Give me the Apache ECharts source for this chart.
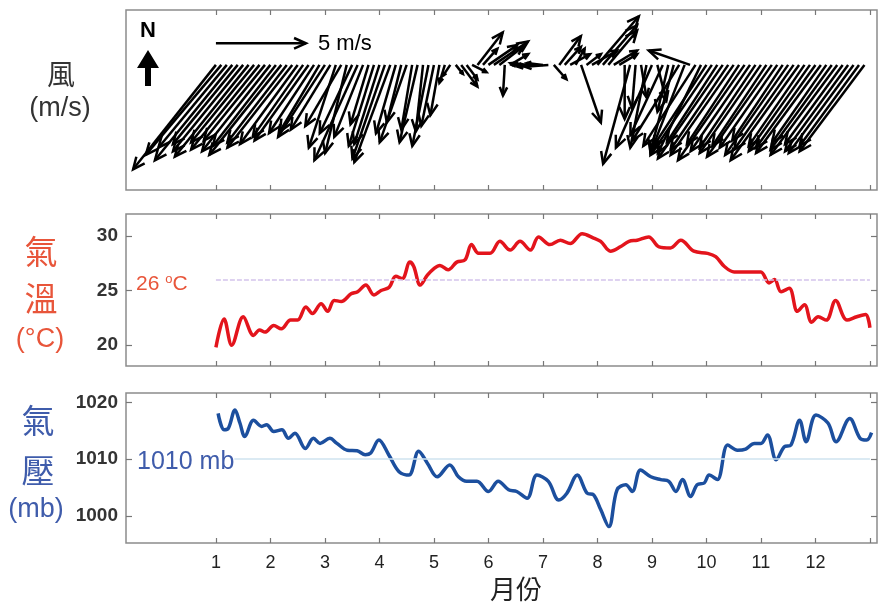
<!DOCTYPE html>
<html>
<head>
<meta charset="utf-8">
<script src="https://cdn.jsdelivr.net/npm/echarts@6/dist/echarts.min.js"></script>
<style>
html, body { margin: 0; background: #fff; }
#chart { width: 879px; height: 602px; }
</style>
</head>
<body>
<div id="chart"></div>
<script>
// month ticks / labels
var monthTicks = [1, 2, 3, 4, 5, 6, 7, 8, 9, 10, 11, 12, 13];
var monthLabels = [1, 2, 3, 4, 5, 6, 7, 8, 9, 10, 11, 12];
var tempTicks = [20, 25, 30];
var presTicks = [1000, 1010, 1020];

// wind: origin month, u and v (m/s)
var windMonth = [
  1.0, 1.1, 1.2, 1.3, 1.4, 1.5, 1.6, 1.7, 1.8, 1.9,
  2.0, 2.1, 2.2, 2.3, 2.4, 2.5, 2.6, 2.7, 2.8, 2.9,
  3.0, 3.1, 3.2, 3.3, 3.4, 3.5, 3.6, 3.7, 3.8, 3.9,
  4.0, 4.1, 4.2, 4.3, 4.4, 4.5, 4.6, 4.7, 4.8, 4.9,
  5.0, 5.1, 5.2, 5.3, 5.4, 5.5, 5.6, 5.7, 5.8, 5.9,
  6.0, 6.1, 6.2, 6.3, 6.4, 6.5, 6.6, 6.7, 6.8, 6.9,
  7.0, 7.1, 7.2, 7.3, 7.4, 7.5, 7.6, 7.7, 7.8, 7.9,
  8.0, 8.1, 8.2, 8.3, 8.4, 8.5, 8.6, 8.7, 8.8, 8.9,
  9.0, 9.1, 9.2, 9.3, 9.4, 9.5, 9.6, 9.7, 9.8, 9.9,
  10.0, 10.1, 10.2, 10.3, 10.4, 10.5, 10.6, 10.7, 10.8, 10.9,
  11.0, 11.1, 11.2, 11.3, 11.4, 11.5, 11.6, 11.7, 11.8, 11.9,
  12.0, 12.1, 12.2, 12.3, 12.4, 12.5, 12.6, 12.7, 12.8, 12.9
];
var windU = [
  -4.6, -4.2, -3.8, -4.3, -3.6, -3.9, -4.1, -3.5, -3.8, -3.4,
  -3.8, -3.5, -4.0, -3.3, -3.6, -3.2, -2.8, -3.0, -2.5, -2.2,
  -2.6, -2.2, -1.5, -2.0, -1.2, -1.8, -2.4, -1.6, -1.0, -1.4,
  -1.4, -1.8, -2.0, -1.1, -0.8, -1.5, -0.6, -1.0, -0.4, -0.9,
  -0.7, -0.5, -0.3, -0.4, 0.4, 0.9, 0.6, 0.8, 1.4, 0.8,
  1.6, 1.9, 1.3, -0.1, 1.0, -0.3, -0.5, -0.7, -0.8, -1.1,
  -0.9, -1.3, 0.7, 1.2, 0.9, 1.1, 0.5, 1.1, 0.8, 1.4,
  2.3, 1.9, 1.6, 1.3, 1.0, 0.0, -1.5, -0.2, 0.3, -0.9,
  -2.0, 0.5, -1.8, -0.6, -1.3, -2.6, -1.9, -2.3, -2.9, -2.4,
  -3.0, -3.4, -2.8, -3.6, -3.2, -3.5, -2.9, -3.7, -3.3, -3.1,
  -3.4, -3.0, -3.6, -3.2, -2.8, -3.5, -3.3, -3.8, -3.1, -3.4,
  -3.3, -3.6, -3.0, -3.4, -3.7, -3.2, -3.5, -3.6, -3.3, -3.6
];
var windV = [
  -5.8, -5.0, -4.6, -5.3, -4.4, -4.8, -5.1, -4.3, -4.7, -4.2,
  -4.8, -4.5, -5.0, -4.3, -4.6, -4.4, -4.0, -4.2, -3.8, -3.7,
  -4.0, -3.6, -4.6, -3.4, -4.9, -3.8, -5.3, -4.0, -3.3, -4.5,
  -4.4, -5.2, -5.4, -3.8, -3.2, -4.3, -3.6, -4.3, -3.7, -4.5,
  -3.4, -2.8, -1.0, -0.6, -0.5, -1.2, -0.8, -0.4, 1.8, 0.9,
  1.1, 1.3, 1.0, -1.7, 0.6, 0.1, 0.0, 0.1, 0.0, -0.1,
  0.1, -0.1, -0.8, 1.6, 1.0, 0.6, 0.9, -3.2, 0.6, 0.8,
  2.7, 2.2, 1.9, 0.8, 0.6, -3.0, -5.5, -2.4, -1.8, -4.6,
  -4.6, -2.0, -3.9, -2.6, -4.8, -4.2, -4.9, 0.8, -4.5, -4.9,
  -4.6, -5.0, -4.3, -5.2, -4.7, -5.0, -4.4, -5.3, -4.8, -4.6,
  -4.9, -4.5, -5.1, -4.6, -4.2, -5.0, -4.7, -5.3, -4.5, -4.8,
  -4.6, -4.9, -4.3, -4.7, -5.0, -4.4, -4.8, -4.9, -4.5, -4.8
];
// reference arrow: start month, start height, u, v
var scaleArrow = [1.0, 1.2, 5, 0];

// temperature (°C)
var tempMonth = [
  1.0, 1.15, 1.29, 1.5, 1.69, 1.8, 1.9, 2.06, 2.2, 2.37,
  2.5, 2.65, 2.77, 2.93, 3.05, 3.17, 3.3, 3.48, 3.6, 3.75,
  3.9, 4.03, 4.18, 4.3, 4.42, 4.56, 4.63, 4.75, 4.88, 5.0,
  5.11, 5.26, 5.42, 5.57, 5.69, 5.82, 6.03, 6.21, 6.4, 6.58,
  6.77, 6.92, 7.13, 7.32, 7.5, 7.72, 7.93, 8.06, 8.24, 8.42,
  8.58, 8.73, 8.94, 9.13, 9.34, 9.53, 9.77, 10.02, 10.17, 10.33,
  10.51, 10.69, 10.9, 11.0, 11.15, 11.25, 11.37, 11.52, 11.67, 11.8,
  11.93, 12.05, 12.2, 12.37, 12.58, 12.76, 12.92, 13.0
];
var tempValue = [
  19.8, 22.4, 20.0, 22.6, 20.9, 21.4, 21.2, 21.8, 21.5, 22.3,
  22.3, 23.5, 22.9, 23.8, 23.1, 24.1, 24.0, 24.7, 24.9, 25.5,
  24.6, 25.0, 25.3, 26.3, 26.1, 27.6, 27.2, 25.5, 26.4, 27.0,
  27.3, 26.9, 27.6, 27.8, 29.2, 28.4, 28.4, 29.5, 28.7, 29.5,
  28.7, 29.9, 29.2, 29.6, 29.3, 30.2, 29.8, 29.5, 28.6, 29.0,
  29.5, 29.6, 29.9, 29.0, 28.9, 29.6, 28.6, 28.4, 28.1, 27.2,
  26.7, 26.7, 26.7, 26.7, 25.7, 26.0, 24.9, 25.2, 23.1, 23.7,
  22.1, 22.6, 22.3, 24.1, 22.3, 22.6, 22.8, 21.6
];

// pressure (mb)
var presMonth = [
  1.04, 1.15, 1.23, 1.35, 1.44, 1.53, 1.69, 1.84, 1.93, 2.06,
  2.21, 2.33, 2.45, 2.64, 2.79, 2.91, 3.09, 3.22, 3.41, 3.59,
  3.74, 3.84, 3.99, 4.17, 4.36, 4.54, 4.72, 4.88, 5.06, 5.29,
  5.45, 5.6, 5.79, 6.0, 6.18, 6.37, 6.52, 6.71, 6.89, 7.1,
  7.29, 7.44, 7.63, 7.81, 7.93, 8.06, 8.21, 8.36, 8.52, 8.64,
  8.79, 8.98, 9.16, 9.31, 9.44, 9.56, 9.71, 9.83, 9.96, 10.05,
  10.2, 10.39, 10.57, 10.72, 10.88, 11.0, 11.12, 11.28, 11.43, 11.55,
  11.71, 11.83, 12.01, 12.23, 12.38, 12.63, 12.82, 12.94, 13.03
];
var presValue = [
  1018.1, 1015.2, 1015.5, 1018.7, 1016.4, 1014.0, 1016.9, 1015.8, 1016.1, 1014.9,
  1015.2, 1013.7, 1014.6, 1011.9, 1013.7, 1012.8, 1013.7, 1012.8, 1011.6, 1011.5,
  1010.8, 1011.1, 1013.4, 1010.8, 1007.8, 1007.2, 1011.4, 1009.3, 1006.9, 1009.0,
  1006.9, 1006.1, 1006.1, 1004.3, 1006.1, 1004.6, 1004.3, 1003.1, 1007.2, 1006.1,
  1002.8, 1004.0, 1007.2, 1004.0, 1003.7, 1001.1, 998.1, 1004.6, 1005.5, 1004.3,
  1008.1, 1006.9, 1006.4, 1006.1, 1004.3, 1006.4, 1003.4, 1005.5, 1005.8, 1007.2,
  1006.4, 1012.5, 1011.6, 1011.8, 1012.8, 1012.8, 1014.3, 1009.9, 1012.2, 1012.5,
  1016.9, 1013.1, 1017.8, 1016.4, 1013.1, 1017.2, 1013.7, 1013.4, 1014.7
];

var tempRef = 26;
var presRef = 1010;

var FONT = '"Liberation Sans", Arial, sans-serif';
var CJK = '"Noto Sans CJK TC", "Noto Sans CJK SC", sans-serif';
var RED = '#e8553a';
var BLUE = '#3f5cab';

var windData = windMonth.map(function (m, i) { return [m, 0, windU[i], windV[i]]; });
var tempData = tempMonth.map(function (m, i) { return [m, tempValue[i]]; });
var presData = presMonth.map(function (m, i) { return [m, presValue[i]]; });

// quiver-style arrow, length scaled by the y axis (px per m/s)
function renderArrow(params, api) {
    var p0 = api.coord([api.value(0), api.value(1)]);
    var unit = api.size([0, 1])[1];
    var dx = api.value(2) * unit;
    var dy = -api.value(3) * unit;
    var p1 = [p0[0] + dx, p0[1] + dy];
    var len = Math.sqrt(dx * dx + dy * dy);
    var head = Math.max(4, Math.min(13, len * 0.3));
    var ang = Math.atan2(dy, dx);
    var h1 = [p1[0] + head * Math.cos(ang + Math.PI - 0.42), p1[1] + head * Math.sin(ang + Math.PI - 0.42)];
    var h2 = [p1[0] + head * Math.cos(ang + Math.PI + 0.42), p1[1] + head * Math.sin(ang + Math.PI + 0.42)];
    return {
        type: 'group',
        children: [
            { type: 'line', shape: { x1: p0[0], y1: p0[1], x2: p1[0], y2: p1[1] },
              style: { stroke: '#000', lineWidth: 2.5 } },
            { type: 'polyline', shape: { points: [h1, p1, h2] },
              style: { stroke: '#000', fill: null, lineWidth: 2.5 } }
        ]
    };
}

function xAx(grid, pos, labels) {
    return {
        type: 'value', gridIndex: grid, position: pos, min: -0.65, max: 13.13,
        axisLine: { show: false, onZero: false }, splitLine: { show: false },
        axisTick: { show: true, inside: true, length: 5, customValues: monthTicks,
                    lineStyle: { color: '#777', width: 1.2 } },
        axisLabel: labels ? { show: true, customValues: monthLabels, margin: 11,
                              fontSize: 18, color: '#222', fontFamily: FONT }
                          : { show: false }
    };
}

function yAx(grid, pos, min, max, ticks, labels) {
    return {
        type: 'value', gridIndex: grid, position: pos, min: min, max: max,
        axisLine: { show: false, onZero: false }, splitLine: { show: false },
        axisTick: ticks ? { show: true, inside: true, length: 6, customValues: ticks,
                            lineStyle: { color: '#777', width: 1.2 } } : { show: false },
        axisLabel: labels ? { show: true, customValues: ticks, margin: 8, fontSize: 19,
                              fontWeight: 'bold', color: '#333', fontFamily: FONT,
                              formatter: function (v) { return String(v); } }
                          : { show: false }
    };
}

var chart = echarts.init(document.getElementById('chart'));
var gridStyle = { show: true, borderColor: '#8c8c8c', borderWidth: 1.5, left: 126, width: 751 };

function title(text, x, y, size, color, family) {
    return { type: 'text', x: x, y: y, z: 100,
             style: { text: text, font: size + 'px ' + family, fill: color, align: 'center', verticalAlign: 'middle' } };
}

var option = {
    animation: false,
    backgroundColor: '#fff',
    grid: [
        Object.assign({ top: 10, height: 180 }, gridStyle),
        Object.assign({ top: 214, height: 152 }, gridStyle),
        Object.assign({ top: 393, height: 150 }, gridStyle)
    ],
    xAxis: [
        xAx(0, 'bottom', false), xAx(0, 'top', false),
        xAx(1, 'bottom', false), xAx(1, 'top', false),
        xAx(2, 'bottom', true), xAx(2, 'top', false)
    ],
    yAxis: [
        yAx(0, 'left', -6.95, 3.05, null, false),
        yAx(1, 'left', 18.1, 32.0, tempTicks, true),
        yAx(1, 'right', 18.1, 32.0, tempTicks, false),
        yAx(2, 'left', 995.2, 1021.7, presTicks, true),
        yAx(2, 'right', 995.2, 1021.7, presTicks, false)
    ],
    series: [
        {
            type: 'custom', name: 'wind', xAxisIndex: 0, yAxisIndex: 0,
            renderItem: renderArrow, data: windData, clip: false,
            encode: { x: 0, y: 1 }
        },
        {
            type: 'custom', name: 'scale', xAxisIndex: 0, yAxisIndex: 0,
            renderItem: renderArrow, data: [scaleArrow], clip: false,
            encode: { x: 0, y: 1 }
        },
        {
            type: 'line', name: 'temp', xAxisIndex: 2, yAxisIndex: 1,
            data: tempData, showSymbol: false, smooth: 0.35,
            lineStyle: { color: '#e3141c', width: 3.5 },
            markLine: {
                silent: true, symbol: 'none', label: { show: false },
                lineStyle: { color: '#d4c4ec', width: 1.5, type: [5, 2] },
                data: [[{ coord: [1, tempRef] }, { coord: [13, tempRef] }]]
            }
        },
        {
            type: 'line', name: 'pres', xAxisIndex: 4, yAxisIndex: 3,
            data: presData, showSymbol: false, smooth: 0.35,
            lineStyle: { color: '#1c4f9e', width: 3.5 },
            markLine: {
                silent: true, symbol: 'none', label: { show: false },
                lineStyle: { color: '#cfe3ef', width: 1.5, type: 'solid' },
                data: [[{ coord: [1, presRef] }, { coord: [13, presRef] }]]
            }
        }
    ],
    graphic: [
        // north arrow
        { type: 'text', x: 148, y: 31, style: { text: 'N', font: 'bold 22px ' + FONT, fill: '#000', align: 'center', verticalAlign: 'middle' } },
        { type: 'polygon', shape: { points: [[137, 68], [148, 50], [159, 68], [151, 68], [151, 86], [145, 86], [145, 68]] },
          style: { fill: '#000' } },
        { type: 'text', x: 318, y: 44, style: { text: '5 m/s', font: '22px ' + FONT, fill: '#000', verticalAlign: 'middle' } },
        // panel titles
        title('風', 61, 74, 28, '#333', CJK),
        title('(m/s)', 60, 109, 27, '#333', FONT),
        title('氣', 41, 251, 33, RED, CJK),
        title('溫', 41, 298, 33, RED, CJK),
        title('(°C)', 40, 340, 27, RED, FONT),
        title('氣', 38, 420, 33, BLUE, CJK),
        title('壓', 38, 470, 33, BLUE, CJK),
        title('(mb)', 36, 510, 27, BLUE, FONT),
        // reference line labels
        { type: 'text', x: 136, y: 284, z: 100, style: {
            text: '26 {s|o}C', font: '21px ' + FONT, fill: RED, verticalAlign: 'middle',
            rich: { s: { fontSize: 13, fill: RED, verticalAlign: 'top', padding: [0, 0, 10, 0] } } } },
        { type: 'text', x: 137, y: 462, z: 100, style: {
            text: '1010 mb', font: '25px ' + FONT, fill: BLUE, verticalAlign: 'middle',
            backgroundColor: '#fff' } },
        // x axis title
        title('月份', 516, 589, 26, '#222', CJK)
    ]
};
chart.setOption(option);
</script>
</body>
</html>
